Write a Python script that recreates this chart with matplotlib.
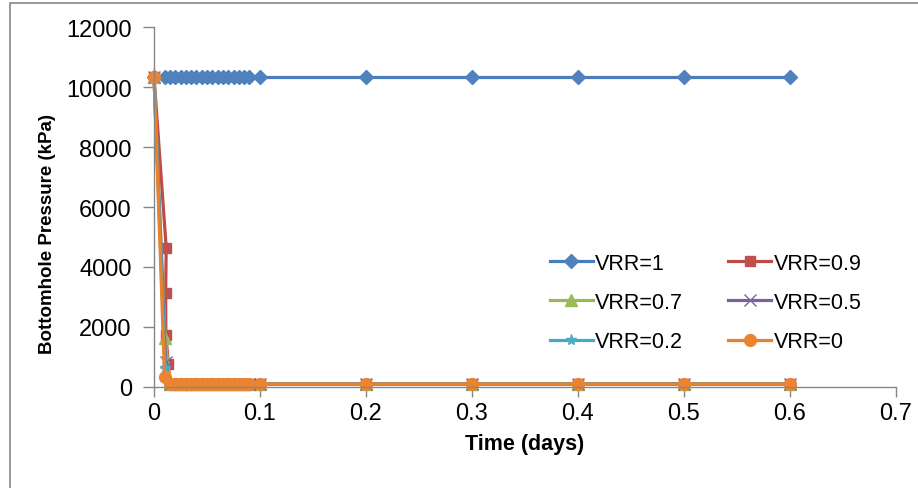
import matplotlib
matplotlib.use("Agg")
import matplotlib.pyplot as plt
from matplotlib.patches import Rectangle

plt.rcParams['font.family'] = ['Liberation Sans', 'DejaVu Sans']

# ---- data ----
t_dense = [0.01, 0.015, 0.02, 0.025, 0.03, 0.035, 0.04, 0.045, 0.05, 0.055,
           0.06, 0.065, 0.07, 0.075, 0.08, 0.085, 0.09, 0.1,
           0.2, 0.3, 0.4, 0.5, 0.6]
t_flat = [0.015, 0.02, 0.025, 0.03, 0.035, 0.04, 0.045, 0.05, 0.055,
          0.06, 0.065, 0.07, 0.075, 0.08, 0.085, 0.09, 0.1,
          0.2, 0.3, 0.4, 0.5, 0.6]
flat_vals = [100] * len(t_flat)

vrr1_t = [0.0] + t_dense
vrr1_p = [10350] + [10350] * len(t_dense)

vrr09_t = [0.0, 0.0115, 0.0110, 0.0112, 0.0135] + t_flat
vrr09_p = [10350, 4650, 3150, 1750, 780] + flat_vals

vrr07_t = [0.0, 0.0105] + t_flat
vrr07_p = [10350, 1650] + flat_vals

vrr05_t = [0.0, 0.011] + t_flat
vrr05_p = [10350, 820] + flat_vals

vrr02_t = [0.0, 0.0105] + t_flat
vrr02_p = [10350, 620] + flat_vals

vrr0_t = [0.0, 0.01] + t_flat
vrr0_p = [10350, 330] + flat_vals

series = [
    ("VRR=1", vrr1_t, vrr1_p, "#4A7EBB", "#4F81BD", "D", 7),
    ("VRR=0.9", vrr09_t, vrr09_p, "#BE4B48", "#C0504D", "s", 7.5),
    ("VRR=0.7", vrr07_t, vrr07_p, "#98B954", "#9BBB59", "^", 8),
    ("VRR=0.5", vrr05_t, vrr05_p, "#7D60A0", "#8064A2", "x", 8),
    ("VRR=0.2", vrr02_t, vrr02_p, "#46AAC5", "#4BACC6", "*", 8),
    ("VRR=0", vrr0_t, vrr0_p, "#E8822E", "#EA8431", "o", 8.5),
]

fig = plt.figure(figsize=(9.18, 4.89), dpi=100)
ax = fig.add_axes([154/918, 1 - 388/489, (896-154)/918, (388-28)/489])

handles = {}
for label, t, p, lc, mc, m, ms in series:
    kw = dict(color=lc, lw=2.3, marker=m, markersize=ms, label=label,
              markerfacecolor=mc, markeredgecolor=mc, clip_on=False)
    if m in ("x", "*"):
        kw.update(markeredgewidth=1.0)
    handles[label] = ax.plot(t, p, **kw)[0]

ax.set_xlim(0, 0.7)
ax.set_ylim(0, 12000)
ax.set_xticks([0, 0.1, 0.2, 0.3, 0.4, 0.5, 0.6, 0.7])
ax.set_xticklabels(["0", "0.1", "0.2", "0.3", "0.4", "0.5", "0.6", "0.7"])
ax.set_yticks([0, 2000, 4000, 6000, 8000, 10000, 12000])

for s in ("top", "right"):
    ax.spines[s].set_visible(False)
for s in ("left", "bottom"):
    ax.spines[s].set_color("#868686")
    ax.spines[s].set_linewidth(1.0)
ax.tick_params(axis="both", direction="out", length=7, width=1.0,
               color="#868686", labelsize=17, labelcolor="black")
ax.tick_params(axis="x", pad=4)
ax.tick_params(axis="y", pad=8, length=8)

ax.set_xlabel("Time (days)", fontsize=15.5, fontweight="bold", labelpad=6)
ax.set_ylabel("Bottomhole Pressure (kPa)", fontsize=13.5, fontweight="bold")
ax.yaxis.set_label_coords(-0.132, (388 - 234) / 360)

# Excel orders legend entries row by row; matplotlib fills columns
order = ["VRR=1", "VRR=0.7", "VRR=0.2", "VRR=0.9", "VRR=0.5", "VRR=0"]
leg = ax.legend([handles[k] for k in order], order, ncol=2, loc="upper left",
                bbox_to_anchor=(0.522, 0.397),
                frameon=False, fontsize=15.5, handlelength=2.0,
                handletextpad=0.1, columnspacing=2.1, labelspacing=0.85,
                borderaxespad=0)

# chart-area border (Excel style)
fig.patches.append(Rectangle((10/918, -0.1), 1.2, 1 - 4/489 + 0.1,
                             transform=fig.transFigure, fill=False,
                             edgecolor="#868686", linewidth=1.2))

fig.savefig("out.png", dpi=100)
